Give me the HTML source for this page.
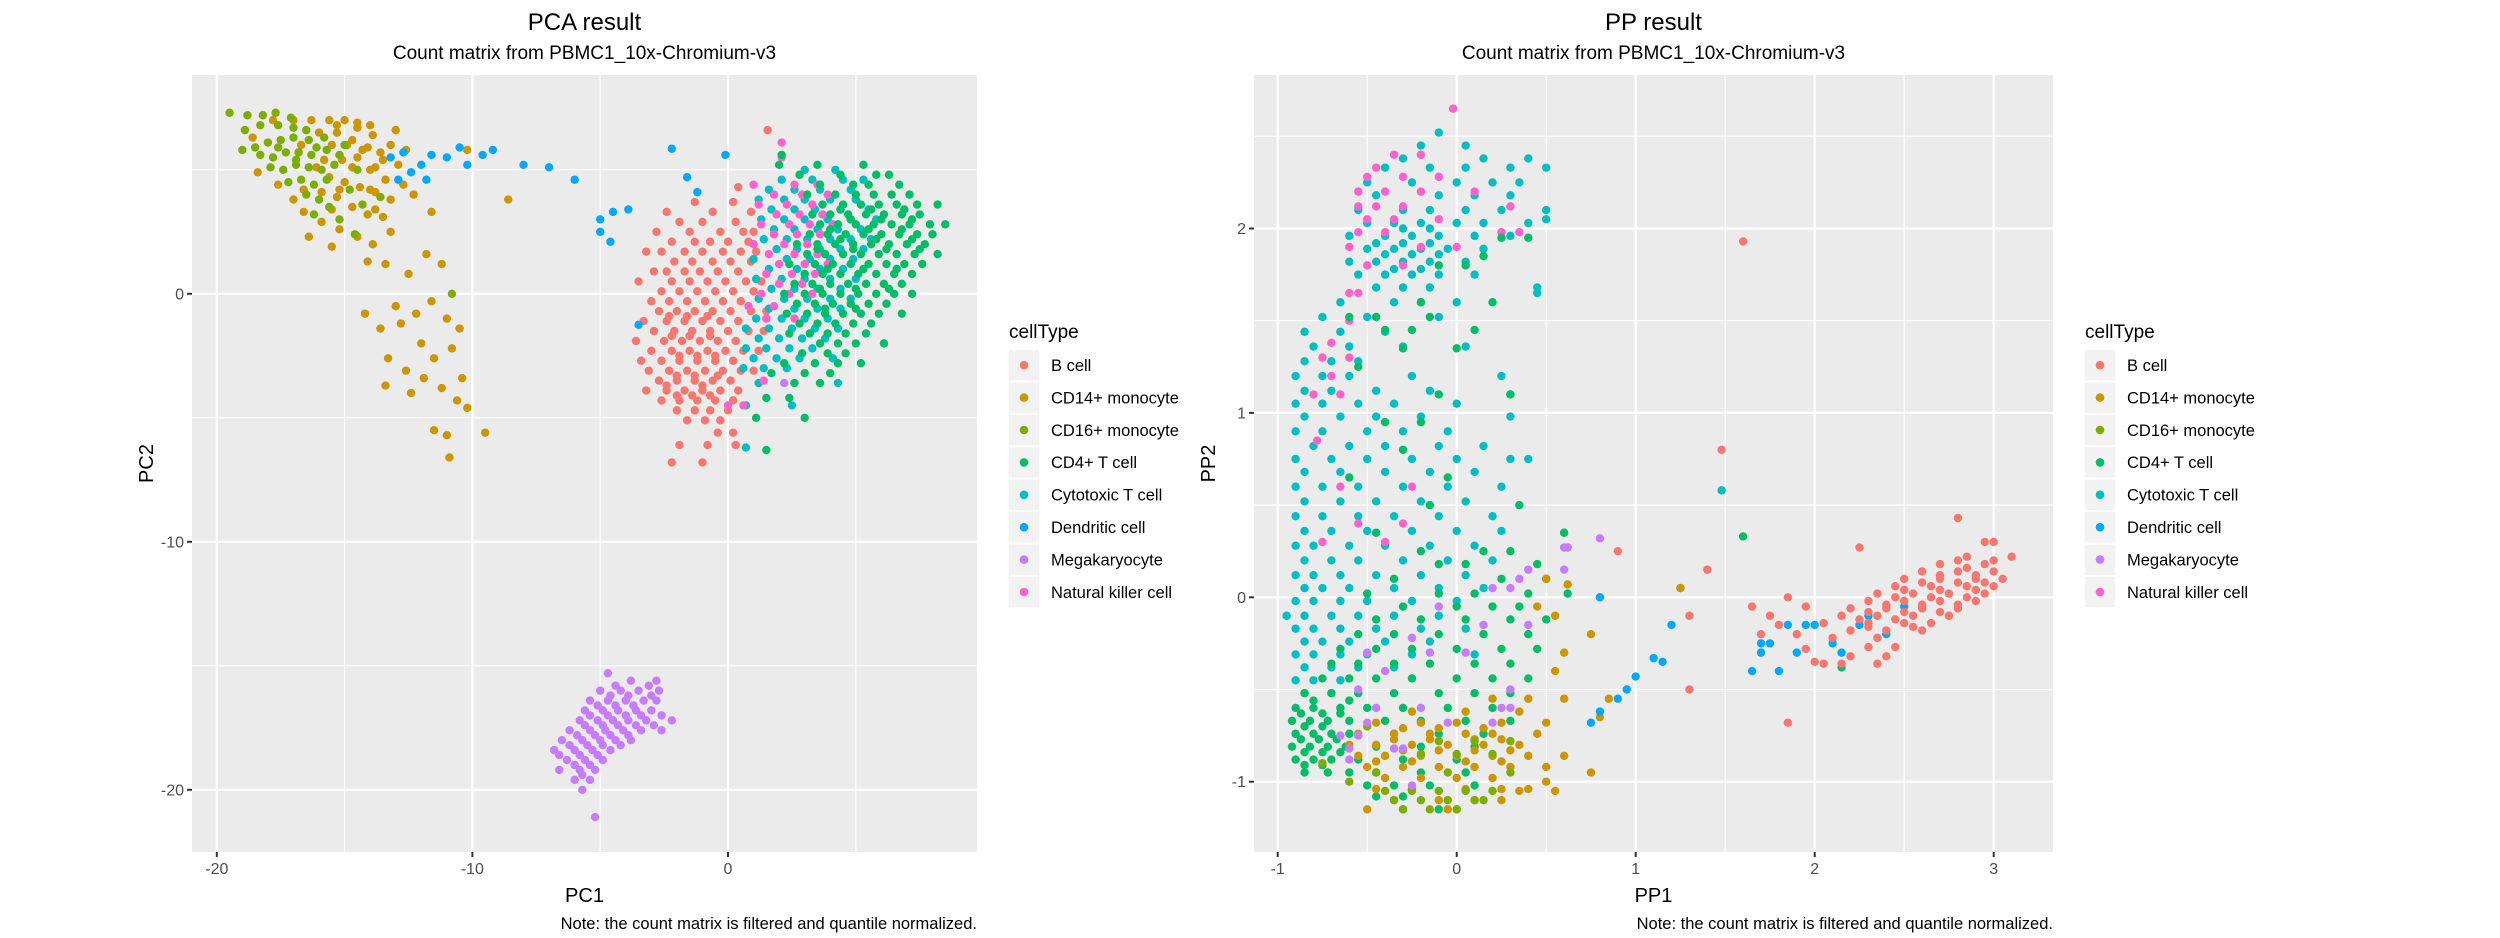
<!DOCTYPE html>
<html><head><meta charset="utf-8"><style>
html,body{margin:0;padding:0;background:#fff;}
svg{display:block;font-family:"Liberation Sans",Arial,sans-serif;}
</style></head><body>
<svg id="chart" width="2500" height="938" viewBox="0 0 2500 938"></svg>
<script>
// ---- Data: rows of [y, x1, x2, ...] ----
// PCA panel
const pcaB = [[6.6,1.55],[4.3,0.4],[3.7,-1.3,0.2],[3.3,-2.4,-0.6,0.9],[2.9,-1.9,-1.0,0.3],[2.5,-2.8,-1.5,-0.3,0.6,1.0],[2.1,-2.2,-1.3,-0.7,0.0,0.8],[1.7,-3.2,-2.6,-1.7,-1.0,-0.2,0.5,1.1],[1.3,-2.1,-1.4,-0.6,0.1,0.9],[0.9,-2.9,-2.4,-1.7,-1.1,-0.4,0.4],[0.5,-3.5,-2.2,-1.5,-0.8,-0.1,0.7,1.3],[0.1,-2.6,-1.9,-1.2,-0.5,0.2,1.0],[-0.3,-3.0,-2.3,-1.6,-0.9,-0.2,0.5],[-0.7,-2.7,-2.0,-1.3,-0.6,0.1,0.9,1.5],[-1.1,-3.3,-2.4,-1.7,-1.0,-0.3,0.4],[-1.5,-2.9,-2.1,-1.4,-0.7,0.0,0.8,1.4],[-1.9,-3.6,-2.5,-1.8,-1.1,-0.4,0.3],[-2.3,-3.0,-2.2,-1.5,-0.8,-0.1,0.6,1.2],[-2.7,-3.4,-2.6,-1.9,-1.2,-0.5,0.2],[-3.1,-3.1,-2.3,-1.6,-0.9,-0.2,0.5,1.0],[-3.5,-2.7,-2.0,-1.3,-0.6,0.1],[-3.9,-3.2,-2.4,-1.7,-1.0,-0.3,0.4],[-4.3,-2.6,-1.9,-1.2,-0.5,0.2],[-4.7,-2.0,-1.3,-0.7,0.0],[-5.1,-1.6,-0.9,-0.3],[-5.6,-0.4,0.2],[-6.1,-1.9,-0.8,0.3],[-6.8,-2.2,-1.0],[-2.5,-1.9,-1.2,-0.5],[-3.3,-2.0,-1.3,-0.4],[-4.1,-2.0,-1.4,-0.7],[-1.7,-2.2,-1.5,-0.7],[-0.9,-2.3,-1.6,-0.8],[-3.7,-2.4,-1.0]];
const pcaCyto = [[5.0,3.0,4.2],[4.6,2.1,3.3,4.5,5.3],[4.2,1.6,2.6,3.6,4.8],[3.8,1.2,2.2,3.0,4.0,5.0],[3.4,1.7,2.6,3.4,4.4,5.5],[3.0,1.3,2.2,3.0,3.9,4.8,5.8],[2.6,1.8,2.6,3.5,4.3,5.2],[2.2,1.4,2.3,3.1,4.0,4.8,5.6],[1.8,1.9,2.7,3.6,4.4,5.3],[1.4,1.0,2.3,3.2,4.0,4.9],[1.0,1.6,2.7,3.6,4.5],[0.6,1.1,2.1,3.0,4.0,5.0],[0.2,1.7,2.6,3.5,4.4],[-0.2,1.2,2.2,3.1,4.0,4.8],[-0.6,1.6,2.6,3.5,4.4],[-1.0,1.1,2.1,3.0,3.9],[-1.4,0.7,1.6,2.5,3.4,4.3],[-1.8,1.2,2.0,2.9,3.8],[-2.2,0.7,1.5,2.4,3.3],[-2.6,1.0,1.9,2.8,4.1],[-3.0,0.6,1.4,2.3],[-3.6,1.2,4.3],[-4.5,0.7,2.5],[-6.2,0.7]];
const pcaNK = [[6.1,2.1],[5.5,2.1],[4.4,1.0,2.6,3.5],[4.0,1.8,2.9,3.9],[3.6,1.2,2.3,3.3],[3.2,1.9,2.8,3.7],[2.8,1.3,2.4,3.2,4.1],[2.4,1.8,2.7,3.6],[2.0,1.0,2.2,3.1],[1.6,1.6,2.6,3.5],[1.2,2.0,3.0,3.9],[0.8,1.5,2.5,3.4],[0.4,2.0,2.9],[0.0,1.3,2.4,3.3],[-0.5,0.8,1.8],[-1.0,1.5,2.6],[-3.5,1.4],[-4.5,0.6,0.0]];
const pcaCD4 = [[5.6,2.1],[5.2,2.0,3.5,5.3],[4.8,2.8,4.4,5.8,6.3],[4.4,3.6,4.9,5.5,6.7],[4.0,3.1,4.2,5.0,5.7,6.4,7.1],[3.6,3.7,4.5,5.2,5.9,6.6,7.4,8.2],[3.2,3.3,4.0,4.7,5.4,6.1,6.8,7.5],[2.8,3.6,4.3,5.0,5.7,6.4,7.1,7.9,8.5],[2.4,3.2,3.9,4.6,5.3,6.0,6.7,7.4,8.0],[2.0,2.7,3.5,4.2,4.9,5.6,6.3,7.0,7.7],[1.6,3.1,3.8,4.5,5.2,5.9,6.6,7.3,8.2],[1.2,2.4,3.4,4.1,4.8,5.5,6.2,6.9,7.6],[0.8,3.0,3.7,4.4,5.1,5.8,6.5,7.2],[0.4,2.6,3.3,4.0,4.7,5.4,6.1,6.8],[0.0,2.2,3.0,3.7,4.4,5.1,5.8,6.5,7.2],[-0.4,2.7,3.4,4.1,4.8,5.5,6.2],[-0.8,2.3,3.1,3.8,4.5,5.2,5.9,6.8],[-1.2,2.8,3.5,4.2,4.9,5.6],[-1.6,2.4,3.2,3.9,4.6,5.4],[-2.0,3.6,4.3,5.0,6.1],[-2.4,2.9,3.9,4.6],[-2.8,2.2,3.4,4.3,5.2],[-3.2,1.7,3.0,4.0],[-3.6,2.6,3.6],[-4.2,1.5,2.4],[-5.0,1.1,3.0],[-6.3,1.5],[3.4,4.4,5.6,6.9],[2.6,4.0,5.5,6.8],[1.8,3.5,4.9,6.2,7.5],[1.0,3.9,5.3,6.6],[0.2,3.6,5.0,6.3],[-0.6,3.8,5.0],[2.2,4.4,5.8,7.2],[3.0,4.8,6.0,7.2]];
const pcaCD14 = [[7.0,-17.8,-17.0,-16.3,-15.6,-15.0],[6.9,-14.5],[6.6,-13.0],[6.7,-14.5],[6.5,-16.0,-15.3],[6.4,-13.9],[6.3,-18.6],[6.2,-14.7],[6.0,-16.7,-13.2],[5.9,-14.1],[5.8,-14.3,-12.6,-10.2],[5.5,-14.5],[5.4,-15.8,-15.1,-13.5],[5.2,-12.9],[5.0,-14.0],[4.9,-18.4],[4.7,-15.6],[4.6,-13.4],[4.5,-15.0],[4.4,-17.6,-12.7],[4.3,-14.4],[4.1,-15.9,-13.8],[4.0,-12.3],[3.9,-15.3],[3.8,-17.0,-13.2,-8.6],[3.5,-14.7],[3.3,-16.6,-11.6],[3.2,-14.1],[3.1,-13.5],[2.9,-15.9],[2.6,-15.2],[2.5,-13.2],[2.3,-16.4,-14.5],[2.0,-13.9],[1.9,-15.5],[1.6,-11.8],[1.3,-14.1],[1.2,-13.4,-11.2],[0.8,-12.5],[-0.3,-11.6],[-0.5,-13.0],[-0.8,-14.2,-12.2],[-1.0,-11.0],[-1.2,-12.8],[-1.4,-13.6,-10.5],[-2.0,-12.0],[-2.2,-10.8],[-2.6,-13.3,-11.5],[-3.1,-12.6],[-3.4,-11.9,-10.4],[-3.7,-13.4],[-3.8,-11.2],[-4.0,-12.4],[-4.3,-10.6],[-4.6,-10.2],[-5.5,-11.5],[-5.6,-9.5],[-5.7,-11.0],[-6.6,-10.9],[6.0,-15.5,-14.9],[5.1,-16.1,-14.7,-13.8],[4.2,-16.6,-15.2,-14.0],[3.4,-15.5,-13.8],[5.7,-16.8,-13.6],[6.8,-15.3,-14.0]];
const pcaCD16 = [[7.3,-19.5,-17.7],[7.2,-18.8,-18.2],[7.1,-17.1],[6.8,-18.3,-17.6],[6.7,-17.0],[6.6,-18.9,-16.5],[6.3,-17.0,-15.8],[6.2,-17.5,-16.4],[6.1,-18.0],[6.0,-15.0],[5.9,-18.5,-17.6,-16.1],[5.8,-19.0,-15.7],[5.7,-17.3,-16.8],[5.6,-18.3,-16.3,-15.2],[5.5,-17.8],[5.4,-16.9],[5.2,-16.9,-15.4],[5.1,-17.9,-16.4],[5.0,-17.4,-15.9,-14.5],[4.6,-16.7,-15.7],[4.5,-17.2],[4.4,-16.2],[4.2,-14.8],[4.0,-16.5],[3.9,-13.6],[3.8,-16.0],[3.6,-14.3],[3.5,-15.6],[3.2,-16.2],[3.0,-15.2],[2.4,-14.6],[0.0,-10.8]];
const pcaDC = [[5.9,-10.5],[5.85,-2.2],[5.8,-9.2],[5.7,-12.7],[5.6,-11.6,-9.6,-0.1],[5.5,-13.2,-11.0],[5.2,-12.0,-10.2,-8.0],[5.1,-7.0],[4.9,-12.4],[4.7,-1.6],[4.6,-12.9,-11.8,-6.0],[4.1,-1.2],[3.4,-3.9],[3.3,-4.5],[3.0,-5.0],[2.5,-5.0],[2.1,-4.6],[-1.25,-3.5]];
const pcaMega = [[-3.6,2.2],[-15.3,-4.7],[-15.6,-3.8,-2.8],[-16.0,-5.0,-4.2,-3.5,-2.7],[-16.4,-5.4,-4.7,-4.0,-3.3,-2.8],[-16.8,-5.6,-4.9,-4.3,-3.6,-3.0],[-17.2,-5.8,-5.1,-4.5,-3.9,-3.2,-2.2],[-17.6,-6.2,-5.4,-4.8,-4.1,-3.4,-2.6],[-18.0,-6.5,-5.7,-5.0,-4.4,-3.8],[-18.4,-6.8,-6.0,-5.3,-4.6],[-18.8,-6.3,-5.6,-4.9],[-19.2,-6.6,-5.8,-5.2],[-19.6,-6.0,-5.4],[-20.0,-5.7],[-21.1,-5.2],[-15.8,-4.4,-3.1],[-16.2,-4.6,-3.9,-3.0],[-16.6,-5.1,-4.4,-3.7],[-17.0,-5.4,-4.7,-4.0,-3.4,-2.6],[-17.4,-5.6,-4.9,-4.3,-3.6,-2.9],[-17.8,-5.9,-5.2,-4.6,-3.9],[-18.2,-6.2,-5.5,-4.9,-4.2],[-18.6,-6.6,-5.8,-5.1],[-19.0,-6.0,-5.4],[-19.4,-5.7]];

// PP panel
const ppCyto = [[2.52,-0.1],[2.45,-0.2,0.05],[2.38,-0.3,0.15,0.4],[2.33,-0.4,-0.15,0.05,0.3,0.5],[2.25,-0.5,-0.25,0.0,0.2,0.35],[2.18,-0.45,-0.1,0.1,0.3],[2.10,-0.55,-0.3,-0.15,0.05,0.25,0.5],[2.03,-0.5,-0.35,-0.2,0.0,0.15,0.4],[1.96,-0.6,-0.4,-0.25,-0.1,0.1,0.3],[1.89,-0.5,-0.35,-0.2,-0.05,0.15],[1.82,-0.6,-0.45,-0.3,-0.15,0.05],[1.75,-0.55,-0.4,-0.25,-0.1,0.1],[1.68,-0.45,-0.3,-0.15,0.45],[1.60,-0.65,-0.35,-0.2,0.0],[1.52,-0.75,-0.5,-0.1],[1.44,-0.85,-0.65,-0.4],[1.36,-0.8,-0.6,-0.3,0.05],[1.28,-0.85,-0.7,-0.55],[1.20,-0.9,-0.75,-0.6,-0.25,0.25],[1.12,-0.85,-0.7,-0.45,-0.15],[1.05,-0.9,-0.75,-0.55,-0.35,0.0],[0.98,-0.85,-0.65,-0.45,-0.2,0.3],[0.90,-0.9,-0.75,-0.5,-0.3,-0.05],[0.82,-0.8,-0.6,-0.4,-0.1,0.15],[0.75,-0.9,-0.7,-0.5,-0.25,0.0,0.3,0.4],[0.68,-0.85,-0.65,-0.4,-0.15,0.1],[0.60,-0.9,-0.75,-0.55,-0.3,-0.05,0.25],[0.58,1.48],[0.52,-0.85,-0.65,-0.45,-0.2,0.05],[0.44,-0.9,-0.75,-0.55,-0.35,-0.1,0.2],[0.36,-0.85,-0.7,-0.5,-0.25,0.0,0.25],[0.28,-0.9,-0.8,-0.6,-0.4,-0.15,0.1],[0.20,-0.85,-0.7,-0.55,-0.3,-0.05,0.2],[0.12,-0.9,-0.8,-0.65,-0.45,-0.2,0.05],[0.05,-0.85,-0.75,-0.6,-0.35,-0.1,0.15,1.25],[0.0,0.8],[-0.02,-0.9,-0.8,-0.65,-0.5,-0.25,0.0],[-0.10,-0.95,-0.85,-0.7,-0.55,-0.35,-0.1],[-0.17,-0.9,-0.8,-0.65,-0.45,-0.2,0.05],[-0.24,-0.85,-0.75,-0.6,-0.4,-0.15],[-0.31,-0.9,-0.8,-0.65,-0.5,-0.25,0.1],[-0.38,-0.85,-0.7,-0.55,-0.35],[-0.45,-0.9,-0.8,-0.65],[-0.52,-0.85,-0.7],[1.1,0.3],[1.65,0.45],[2.05,0.5],[1.92,-0.45,-0.3,-0.15],[1.78,-0.35,-0.2],[1.86,-0.4,-0.25,-0.1],[2.0,-0.3,-0.15]];
const ppNK = [[2.65,-0.02],[2.4,-0.35,-0.2],[2.33,-0.45],[2.28,-0.5,-0.3,-0.1],[2.2,-0.55,-0.4,-0.2,0.1],[2.12,-0.55,-0.45,-0.3,0.3],[2.05,-0.5,-0.35,-0.1],[1.98,-0.55,-0.4,0.25,0.35],[1.9,-0.6,-0.2,0.0],[1.8,-0.5,-0.3],[1.65,-0.55,-0.6],[1.5,-0.6],[1.38,-0.7],[1.3,-0.6,-0.75],[1.2,-0.7],[1.1,-0.8,-0.65],[0.85,-0.78],[0.6,-0.65,-0.25],[0.4,-0.55,-0.3],[0.3,-0.75,-0.4]];
const ppCD4 = [[1.95,0.25,0.4],[1.85,0.15],[1.8,-0.1,0.05],[1.6,-0.2,0.2],[1.52,-0.6,-0.45,-0.15],[1.45,-0.4,-0.25,0.1],[1.35,-0.3,0.0],[1.25,-0.55],[1.1,-0.1,0.3],[0.95,-0.4,-0.2],[0.8,-0.3],[0.65,-0.6,-0.05],[0.5,-0.15,0.35],[0.35,-0.45,0.6],[0.33,1.6],[0.25,-0.2,0.15,0.3],[0.18,-0.1,0.05,0.45],[0.1,-0.35,0.25,0.5],[0.02,-0.5,-0.1,0.1,0.4,0.62],[-0.05,-0.3,0.0,0.2,0.35],[-0.12,-0.45,-0.2,0.05,0.3,0.5],[-0.2,-0.55,-0.35,-0.1,0.15,0.4],[-0.28,-0.65,-0.45,-0.25,0.0,0.25,0.45],[-0.36,-0.7,-0.55,-0.35,-0.15,0.1,0.3],[-0.44,-0.75,-0.6,-0.45,-0.25,0.0,0.2,0.4],[-0.52,-0.85,-0.7,-0.55,-0.35,-0.1,0.1,0.3],[-0.6,-0.9,-0.8,-0.65,-0.5,-0.3,-0.05,0.2],[-0.67,-0.92,-0.82,-0.72,-0.6,-0.4,-0.2,0.05,0.3],[-0.74,-0.9,-0.8,-0.7,-0.6,-0.35,-0.1,0.15],[-0.81,-0.92,-0.82,-0.72,-0.62,-0.45,-0.2,0.1],[-0.88,-0.9,-0.8,-0.7,-0.55,-0.3,0.0],[-0.95,-0.85,-0.72,-0.6,-0.45,-0.2,0.05],[-1.02,-0.5,-0.35,-0.15,0.1],[-1.08,-0.45,-0.3],[-1.15,-0.3,-0.1],[-0.38,2.15],[-0.63,-0.87,-0.75,-0.65],[-0.7,-0.85,-0.75],[-0.77,-0.87,-0.77,-0.67],[-0.84,-0.85,-0.75,-0.65],[-0.91,-0.85,-0.75],[-0.56,-0.8,-0.6]];
const ppCD14 = [[-0.55,0.2,0.4],[-0.62,-0.25,0.05,0.35],[-0.68,-0.45,-0.2,0.0,0.25,0.5],[-0.74,-0.55,-0.35,-0.15,0.05,0.2,0.45],[-0.8,-0.6,-0.45,-0.25,-0.05,0.15,0.35],[-0.86,-0.55,-0.4,-0.2,0.0,0.2,0.4,0.6],[-0.92,-0.5,-0.3,-0.1,0.1,0.3,0.5],[-0.98,-0.4,-0.2,0.0,0.2],[-1.04,-0.45,-0.25,0.05,0.25,0.4],[-1.1,-0.35,-0.1,0.1],[-1.15,-0.5,-0.05,0.0],[-0.4,0.55],[-0.55,0.6,0.85],[-0.3,0.6],[-0.1,0.55],[-0.2,0.75],[-0.65,0.8],[-0.05,0.45],[0.1,0.5],[0.07,0.62],[0.05,1.25],[-1.0,0.5],[-1.05,0.55,0.35],[-0.95,0.75],[-1.1,0.25],[-0.77,-0.35,-0.15,0.1,0.25],[-0.83,-0.3,-0.1,0.1,0.3],[-0.89,-0.45,-0.25,0.05,0.25],[-0.71,-0.3,-0.1,0.15]];
const ppCD16 = [[-1.15,-0.3,-0.15,0.0],[-1.1,-0.35,-0.2,-0.05,0.1,0.15],[-1.05,-0.4,-0.25,-0.1,0.05,0.2],[-0.95,-0.45,-0.05,0.3],[-0.85,-0.2,0.0,0.2],[-0.78,-0.1,0.1,0.3],[-0.7,-0.5],[-0.9,-0.75],[-1.0,-0.6]];
const ppMega = [[0.32,0.8],[0.27,0.6,0.62],[0.15,0.6,0.4],[0.1,0.35],[0.05,0.3,0.2],[-0.05,-0.1],[-0.15,0.15,0.4],[-0.22,-0.25],[-0.3,-0.5,-0.15,0.05],[-0.4,-0.4],[-0.5,0.3,-0.55],[-0.6,-0.45,-0.2,0.3,0.25],[-0.68,-0.5,-0.05,0.2],[-0.75,-0.55,-0.65],[-0.82,-0.6,-0.3,-0.35],[-0.88,-0.6],[-1.02,-0.25]];
const ppDC = [[0.0,0.8],[-0.15,1.2,1.85,1.95,2.0,2.25],[-0.33,1.1],[-0.35,1.15],[-0.43,1.0],[-0.5,0.95],[-0.55,0.9],[-0.62,0.8],[-0.68,0.75],[-0.4,1.65,1.8],[-0.3,1.7,1.9],[-0.25,1.75,2.1,1.7],[-0.1,2.3],[-0.05,2.5,2.6],[-0.2,2.4],[-0.3,2.15]];
const ppB = [[1.93,1.6],[0.8,1.48],[0.43,2.8],[0.30,2.95,3.0],[0.27,2.25],[0.25,0.9],[0.22,2.85,3.1],[0.18,2.7,2.95],[0.15,1.4],[0.14,2.6,2.8,3.0],[0.10,2.5,2.7,2.9,3.05],[0.06,2.45,2.65,2.85,3.0],[0.02,2.35,2.55,2.75,2.95],[0.0,1.85],[-0.02,2.3,2.5,2.7,2.9],[-0.05,1.65,1.95],[-0.06,2.2,2.4,2.6,2.8],[-0.10,2.15,2.35,2.55,2.75,1.75,1.3],[-0.14,2.05,2.3,2.5,2.65],[-0.15,1.8],[-0.18,2.2,2.4,2.6],[-0.2,1.9,1.7],[-0.22,2.1,2.35],[-0.27,2.3,2.45],[-0.28,1.95],[-0.32,2.2,2.4],[-0.35,2.0],[-0.36,2.05,2.15,2.35],[-0.5,1.3],[-0.68,1.85],[0.12,2.7,2.9],[0.08,2.6,2.8,2.95],[0.04,2.5,2.7,2.9],[0.0,2.45,2.65,2.85],[-0.04,2.4,2.6,2.8],[-0.08,2.3,2.5,2.7],[-0.12,2.25,2.45],[0.2,2.8,3.0],[0.16,2.85],[-0.16,2.3,2.55]];

const legendLabels = ["B cell","CD14+ monocyte","CD16+ monocyte","CD4+ T cell","Cytotoxic T cell","Dendritic cell","Megakaryocyte","Natural killer cell"];
const legendColors = ["#F8766D","#CD9600","#7CAE00","#00BE67","#00BFC4","#00A9FF","#C77CFF","#FF61CC"];
const pcaXTicks = [-20,-10,0];
const pcaYTicks = [0,-10,-20];
const ppXTicks = [-1,0,1,2,3];
const ppYTicks = [-1,0,1,2];

const NS = "http://www.w3.org/2000/svg";
const svg = document.getElementById("chart");
function mk(tag, attrs, parent){const e=document.createElementNS(NS,tag);for(const k in attrs)e.setAttribute(k,attrs[k]);(parent||svg).appendChild(e);return e;}
function txt(s, attrs, parent){const e=mk("text",attrs,parent);e.textContent=s;return e;}

function panel(cfg){
  const g = mk("g",{});
  
  
  const {x0,x1,y0,y1,xs,ys} = cfg;
  const bg = mk("rect",{x:x0,y:y0,width:x1-x0,height:y1-y0,fill:"#EBEBEB"},g);
  
  
  const dmin = (x0-cfg.xo)/cfg.xk, dmax=(x1-cfg.xo)/cfg.xk;
  const ymax = (cfg.yo-y0)/cfg.yk, ymin=(cfg.yo-y1)/cfg.yk;
  for(let i=0;i<cfg.xTicks.length+1;i++){
    const v=cfg.xTicks[0]+(i-0.5)*cfg.xStep; if(v>dmin&&v<dmax){const l=mk("line",{x1:xs(v),x2:xs(v),y1:y0,y2:y1,stroke:"#fff","stroke-width":1.1},g);}
  }
  for(let i=-1;i<cfg.yTicks.length+1;i++){
    const v=cfg.yTicks[0]+(i+0.5)*cfg.yStep; if(v>ymin&&v<ymax){const l=mk("line",{x1:x0,x2:x1,y1:ys(v),y2:ys(v),stroke:"#fff","stroke-width":1.1},g);}
  }
  cfg.xTicks.forEach(v=>{
    const l=mk("line",{x1:xs(v),x2:xs(v),y1:y0,y2:y1,stroke:"#fff","stroke-width":2.2},g);
    
    
    mk("line",{x1:xs(v),x2:xs(v),y1:y1,y2:y1+5,stroke:"#333","stroke-width":2},g);
    const t=txt(String(v),{x:xs(v),y:y1+22,"text-anchor":"middle","font-size":16,fill:"#4D4D4D"},g);
    
    
  });
  cfg.yTicks.forEach(v=>{
    const l=mk("line",{x1:x0,x2:x1,y1:ys(v),y2:ys(v),stroke:"#fff","stroke-width":2.2},g);
    
    
    mk("line",{x1:x0-5,x2:x0,y1:ys(v),y2:ys(v),stroke:"#333","stroke-width":2},g);
    const t=txt(String(v),{x:x0-8,y:ys(v)+5.5,"text-anchor":"end","font-size":16,fill:"#4D4D4D"},g);
    
    
  });
  const cg = mk("g",{},g);
  
  
  cfg.series.forEach(([rows,ci])=>{
    rows.forEach(r=>{
      for(let k=1;k<r.length;k++){
        const c=mk("circle",{cx:xs(r[k]),cy:ys(r[0]),r:4.2,fill:legendColors[ci]},cg);
        
        
      }
    });
  });
  const cx=(x0+x1)/2;
  let t=txt(cfg.title,{x:cx,y:30,"text-anchor":"middle","font-size":24,fill:"#000"},g);
   
  t=txt("Count matrix from PBMC1_10x-Chromium-v3",{x:cx,y:59,"text-anchor":"middle","font-size":19,fill:"#000"},g);
   
  t=txt(cfg.xlab,{x:cx,y:902,"text-anchor":"middle","font-size":20,fill:"#000"},g);
   
  t=txt(cfg.ylab,{x:0,y:0,"text-anchor":"middle","font-size":20,fill:"#000",transform:`translate(${x0-39},${(y0+y1)/2}) rotate(-90)`},g);
   
  t=txt("Note: the count matrix is filtered and quantile normalized.",{x:x1,y:929,"text-anchor":"end","font-size":16.5,fill:"#000"},g);
   
  const lg=mk("g",{},g);
   
  const lx=x1+32;
  t=txt("cellType",{x:lx,y:338,"font-size":19,fill:"#000"},lg);
   
  legendLabels.forEach((lab,i)=>{
    const ey=350+i*32.4;
    const e=mk("g",{},lg);
    
    
    mk("rect",{x:lx,y:ey,width:30,height:30.4,fill:"#F2F2F2"},e);
    mk("circle",{cx:lx+15,cy:ey+15.2,r:4.3,fill:legendColors[i]},e);
    txt(lab,{x:lx+42,y:ey+21,"font-size":16.5,fill:"#000"},e);
  });
}

panel({name:"pca-panel",title:"PCA result",xlab:"PC1",ylab:"PC2",x0:192,x1:977,y0:75,y1:852,
  xo:728,xk:25.56,yo:293.8,yk:24.8,xs:v=>728+25.56*v,ys:v=>293.8-24.8*v,
  xTicks:pcaXTicks,yTicks:pcaYTicks,xStep:10,yStep:-10,
  series:[[pcaB,0],[pcaCyto,4],[pcaNK,7],[pcaCD4,3],[pcaCD14,1],[pcaCD16,2],[pcaDC,5],[pcaMega,6]]});
panel({name:"pp-panel",title:"PP result",xlab:"PP1",ylab:"PP2",x0:1254,x1:2053,y0:75,y1:852,
  xo:1456.7,xk:179,yo:597.3,yk:184.4,xs:v=>1456.7+179*v,ys:v=>597.3-184.4*v,
  xTicks:ppXTicks,yTicks:ppYTicks,xStep:1,yStep:1,
  series:[[ppCyto,4],[ppNK,7],[ppCD4,3],[ppCD14,1],[ppCD16,2],[ppMega,6],[ppDC,5],[ppB,0]]});
</script>
</body></html>
